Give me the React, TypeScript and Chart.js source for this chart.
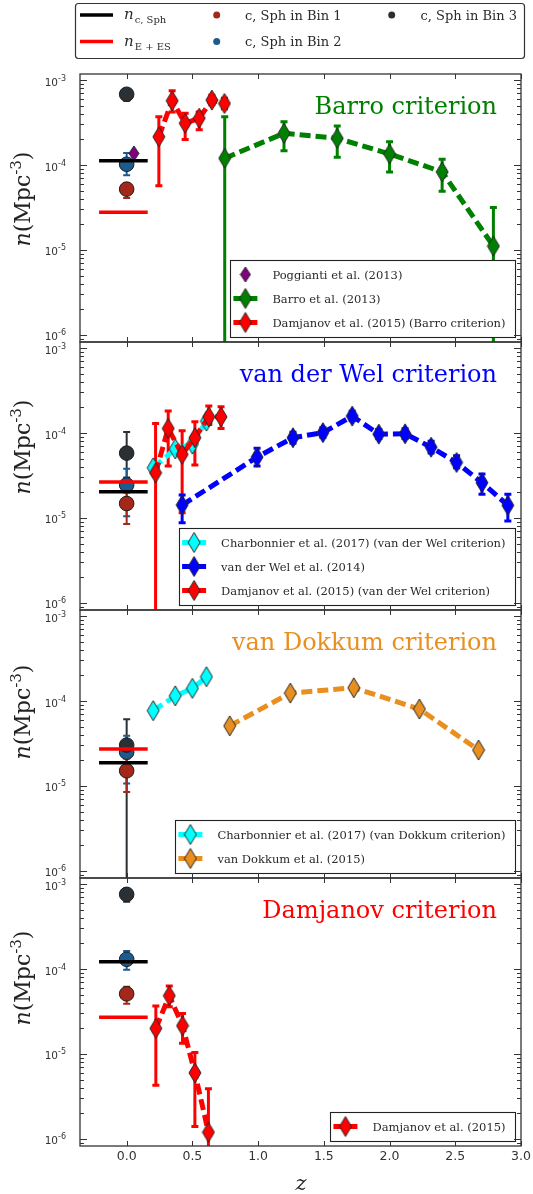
import React, { useEffect, useRef } from 'react';
import { Chart, registerables } from 'chart.js';

Chart.register(...registerables);

// ---------------- layout constants ----------------
const PAGE_W = 533;
const PAGE_H = 1194;
const PLOT_LEFT = 80;
const PLOT_RIGHT = 521;
const PANEL_TOPS = [74, 342, 610, 878];
const PANEL_H = 268;
const YLABEL_OFFSETS = [125, 105, 102, 100];

const X_MIN = -0.355;
const X_MAX = 3.0;
const Y_MIN = 8.27e-7;
const Y_MAX = 1.177e-3;

// ---------------- axis ticks ----------------
const xTickValues = [0, 0.5, 1, 1.5, 2, 2.5, 3];
const xTickLabels = ['0.0', '0.5', '1.0', '1.5', '2.0', '2.5', '3.0'];
const yDecadeValues = [1e-6, 1e-5, 1e-4, 1e-3];
const yDecadeExponents = ['-6', '-5', '-4', '-3'];

// ---------------- panel titles ----------------
const panelTitles = ['Barro criterion', 'van der Wel criterion', 'van Dokkum criterion', 'Damjanov criterion'];

// ---------------- colours ----------------
const GREEN = '#008000';
const RED = '#ff0000';
const BLUE = '#0000ff';
const CYAN = '#00ffff';
const ORANGE = '#e98f1f';
const PURPLE = '#800080';
const BIN1 = '#a3281a';
const BIN2 = '#1d5b8e';
const BIN3 = '#2b3034';
const panelTitleColors = [GREEN, BLUE, ORANGE, RED];

// ---------------- local (z = 0) values, one per panel ----------------
const localZ = 0;
const localLineZ = [-0.21, 0.16];
const nCSph = [1.12e-4, 2.04e-5, 1.88e-5, 1.22e-4];
const nEES = [2.78e-5, 2.65e-5, 2.72e-5, 2.7e-5];
const bin1N = [5.2e-5, 1.48e-5, 1.51e-5, 5.1e-5];
const bin1Lo = [4.1e-5, 8.5e-6, 8.5e-6, 3.9e-5];
const bin1Hi = [6.1e-5, 2.0e-5, 2.1e-5, 6.2e-5];
const bin2N = [1.02e-4, 2.45e-5, 2.5e-5, 1.3e-4];
const bin2Lo = [7.6e-5, 1.05e-5, 1.07e-5, 9.8e-5];
const bin2Hi = [1.38e-4, 3.8e-5, 3.9e-5, 1.63e-4];
const bin3N = [6.8e-4, 5.8e-5, 3.03e-5, 7.56e-4];
const bin3Lo = [5.7e-4, 3.0e-5, 0, 6.2e-4];
const bin3Hi = [7.8e-4, 1.03e-4, 6.1e-5, 8.8e-4];

// ---------------- panel 1: Barro criterion ----------------
const poggiantiZ = [0.055];
const poggiantiN = [1.37e-4];
const barroZ = [0.746, 1.197, 1.602, 2.0, 2.4, 2.79];
const barroN = [1.2e-4, 2.36e-4, 2.06e-4, 1.35e-4, 8.3e-5, 1.11e-5];
const barroLo = [0, 1.47e-4, 1.23e-4, 8.3e-5, 4.9e-5, 0];
const barroHi = [3.7e-4, 3.23e-4, 2.87e-4, 1.88e-4, 1.17e-4, 3.17e-5];
const damBarroZ = [0.245, 0.346, 0.445, 0.552, 0.648, 0.744];
const damBarroN = [2.15e-4, 5.7e-4, 3.1e-4, 3.55e-4, 5.8e-4, 5.3e-4];
const damBarroLo = [5.7e-5, 4.2e-4, 2.0e-4, 2.6e-4, 5.1e-4, 4.6e-4];
const damBarroHi = [3.7e-4, 7.5e-4, 4.07e-4, 4.2e-4, 6.6e-4, 6.1e-4];

// ---------------- panel 2: van der Wel criterion ----------------
const charbZ = [0.202, 0.37, 0.5, 0.607];
const charbVdwN = [3.9e-5, 6.5e-5, 7.4e-5, 1.38e-4];
const vdwZ = [0.422, 0.992, 1.265, 1.493, 1.716, 1.918, 2.118, 2.316, 2.51, 2.703, 2.9];
const vdwN = [1.42e-5, 5.2e-5, 8.8e-5, 1.01e-4, 1.58e-4, 9.7e-5, 9.8e-5, 6.8e-5, 4.5e-5, 2.6e-5, 1.41e-5];
const vdwLo = [8.8e-6, 4.1e-5, 7.6e-5, 8.9e-5, 1.4e-4, 8.6e-5, 8.6e-5, 5.8e-5, 3.9e-5, 1.9e-5, 9.2e-6];
const vdwHi = [1.86e-5, 6.6e-5, 1.02e-4, 1.15e-4, 1.8e-4, 1.1e-4, 1.12e-4, 8.0e-5, 5.4e-5, 3.3e-5, 1.9e-5];
const damVdwZ = [0.22, 0.316, 0.422, 0.519, 0.625, 0.718];
const damVdwN = [3.4e-5, 1.13e-4, 5.6e-5, 8.8e-5, 1.55e-4, 1.55e-4];
const damVdwLo = [0, 4.1e-5, 1.15e-5, 4.2e-5, 1.26e-4, 1.13e-4];
const damVdwHi = [1.29e-4, 1.81e-4, 1.06e-4, 1.36e-4, 2.08e-4, 2.03e-4];

// ---------------- panel 3: van Dokkum criterion ----------------
const charbVdkN = [7.7e-5, 1.15e-4, 1.41e-4, 1.93e-4];
const vdkZ = [0.784, 1.245, 1.728, 2.227, 2.677];
const vdkN = [5.1e-5, 1.24e-4, 1.43e-4, 8.05e-5, 2.65e-5];

// ---------------- panel 4: Damjanov criterion ----------------
const damZ = [0.222, 0.324, 0.425, 0.519, 0.622];
const damN = [2.0e-5, 4.85e-5, 2.15e-5, 6.0e-6, 1.2e-6];
const damLo = [4.3e-6, 3.6e-5, 1.34e-5, 1.4e-6, 0];
const damHi = [3.67e-5, 6.3e-5, 3.0e-5, 1.04e-5, 3.9e-6];

// ---------------- legend labels ----------------
const legendLabels = [
  ['Poggianti et al. (2013)', 'Barro et al. (2013)', 'Damjanov et al. (2015) (Barro criterion)'],
  ['Charbonnier et al. (2017) (van der Wel criterion)', 'van der Wel et al. (2014)', 'Damjanov et al. (2015) (van der Wel criterion)'],
  ['Charbonnier et al. (2017) (van Dokkum criterion)', 'van Dokkum et al. (2015)'],
  ['Damjanov et al. (2015)'],
];
const topLegendBinLabels = ['c, Sph in Bin 1', 'c, Sph in Bin 2', 'c, Sph in Bin 3'];

// ---------------- helpers ----------------
const SERIF = '"DejaVu Serif", serif';
const SANS = '"DejaVu Sans", sans-serif';

function diamond(fill: string, w = 12, h = 20): HTMLCanvasElement {
  const c = document.createElement('canvas');
  c.width = w + 2;
  c.height = h + 2;
  const g = c.getContext('2d')!;
  const cx = (w + 2) / 2;
  const cy = (h + 2) / 2;
  g.beginPath();
  g.moveTo(cx, 1);
  g.lineTo(cx + w / 2, cy);
  g.lineTo(cx, h + 1);
  g.lineTo(cx - w / 2, cy);
  g.closePath();
  g.fillStyle = fill;
  g.fill();
  g.strokeStyle = '#262626';
  g.lineWidth = 1;
  g.stroke();
  return c;
}

function pts(zs: number[], ns: number[]) {
  return zs.map((z, i) => ({ x: z, y: ns[i] }));
}

function dashed(label: string, zs: number[], ns: number[], color: string, marker: any, order: number, lo?: number[], hi?: number[]) {
  return {
    label,
    data: pts(zs, ns),
    showLine: true,
    borderColor: color,
    backgroundColor: color,
    borderWidth: 5,
    borderDash: [11, 5],
    borderCapStyle: 'butt',
    tension: 0,
    pointStyle: marker,
    pointRadius: 9,
    pointBorderWidth: 0,
    order,
    errLo: lo,
    errHi: hi,
    errColor: color,
    errWidth: 3,
    capHalf: 3.5,
  };
}

function circle(label: string, n: number, lo: number, hi: number, color: string, order: number) {
  return {
    label,
    data: [{ x: localZ, y: n }],
    showLine: false,
    pointStyle: 'circle',
    pointRadius: 7.3,
    backgroundColor: color,
    borderColor: '#1c1c1c',
    pointBorderWidth: 1,
    order,
    errLo: [lo],
    errHi: [hi],
    errColor: color,
    errWidth: 2,
    capHalf: 3.5,
  };
}

function hline(label: string, n: number, color: string) {
  return {
    label,
    data: [{ x: localLineZ[0], y: n }, { x: localLineZ[1], y: n }],
    showLine: true,
    borderColor: color,
    borderWidth: 3.5,
    pointRadius: 0,
    order: 0,
  };
}

function drawPanelLegend(ctx: CanvasRenderingContext2D, entries: any[], right: number, bottom: number) {
  ctx.save();
  ctx.font = `11.5px ${SERIF}`;
  let tw = 0;
  entries.forEach((e) => { tw = Math.max(tw, ctx.measureText(e.label).width); });
  const rowH = 24;
  const h = entries.length * rowH + 5;
  const left = right - (42 + tw + 10);
  const top = bottom - h;
  ctx.fillStyle = '#fff';
  ctx.fillRect(left, top, right - left, h);
  ctx.strokeStyle = '#222';
  ctx.lineWidth = 1.1;
  ctx.strokeRect(Math.round(left) + 0.5, Math.round(top) + 0.5, Math.round(right - left), Math.round(h));
  entries.forEach((e, i) => {
    const cy = top + 14.5 + rowH * i;
    if (e.line) {
      ctx.strokeStyle = e.line;
      ctx.lineWidth = 5;
      ctx.beginPath();
      ctx.moveTo(left + 3, cy);
      ctx.lineTo(left + 27, cy);
      ctx.stroke();
    }
    const m = e.marker as HTMLCanvasElement;
    ctx.drawImage(m, left + 15 - m.width / 2, cy - m.height / 2);
    ctx.fillStyle = '#2a2a2a';
    ctx.textBaseline = 'alphabetic';
    ctx.textAlign = 'left';
    ctx.fillText(e.label, left + 42, cy + 4);
  });
  ctx.restore();
}

function drawTopLegend(ctx: CanvasRenderingContext2D) {
  ctx.save();
  ctx.fillStyle = '#fff';
  ctx.strokeStyle = '#333';
  ctx.lineWidth = 1.2;
  ctx.beginPath();
  (ctx as any).roundRect(75.5, 3.5, 449, 55, 3);
  ctx.fill();
  ctx.stroke();
  const rows = [15, 41.5];
  ctx.lineWidth = 3.5;
  ctx.strokeStyle = '#000';
  ctx.beginPath(); ctx.moveTo(80, rows[0]); ctx.lineTo(113, rows[0]); ctx.stroke();
  ctx.strokeStyle = RED;
  ctx.beginPath(); ctx.moveTo(80, rows[1]); ctx.lineTo(113, rows[1]); ctx.stroke();
  ctx.fillStyle = '#2a2a2a';
  const subs = ['c, Sph', 'E + ES'];
  rows.forEach((y, i) => {
    ctx.font = `italic 15px ${SERIF}`;
    ctx.fillText('n', 124, y + 4);
    const nw = ctx.measureText('n').width;
    ctx.font = `10px ${SERIF}`;
    ctx.fillText(subs[i], 124 + nw + 1, y + 8);
  });
  const dots = [[216.7, rows[0], BIN1], [216.7, rows[1], BIN2], [391.7, rows[0], BIN3]] as const;
  const textX = [245, 245, 420.5];
  dots.forEach(([x, y, c], i) => {
    ctx.fillStyle = c as string;
    ctx.beginPath();
    ctx.arc(x as number, y as number, 3.5, 0, Math.PI * 2);
    ctx.fill();
    ctx.fillStyle = '#2a2a2a';
    ctx.font = `13px ${SERIF}`;
    ctx.fillText(topLegendBinLabels[i], textX[i], (y as number) + 4.5);
  });
  ctx.restore();
}

function makePlugin(p: number, legendEntries: any[]) {
  return {
    id: 'panelDecor' + p,
    beforeDatasetsDraw(chart: any) {
      const { ctx, chartArea: a, scales } = chart;
      const xs = scales.x;
      const ys = scales.y;
      ctx.save();
      ctx.beginPath();
      ctx.rect(a.left, a.top, a.right - a.left, a.bottom - a.top);
      ctx.clip();
      chart.data.datasets.forEach((ds: any) => {
        if (!ds.errLo) return;
        ds.data.forEach((pt: any, i: number) => {
          const px = xs.getPixelForValue(pt.x);
          const lo = ds.errLo[i];
          const hi = ds.errHi[i];
          const pyLo = lo > 0 ? ys.getPixelForValue(lo) : a.bottom + 10;
          const pyHi = ys.getPixelForValue(hi);
          ctx.strokeStyle = ds.errColor;
          ctx.lineWidth = ds.errWidth;
          ctx.setLineDash([]);
          ctx.beginPath();
          ctx.moveTo(px, pyLo);
          ctx.lineTo(px, pyHi);
          ctx.moveTo(px - ds.capHalf, pyLo);
          ctx.lineTo(px + ds.capHalf, pyLo);
          ctx.moveTo(px - ds.capHalf, pyHi);
          ctx.lineTo(px + ds.capHalf, pyHi);
          ctx.stroke();
        });
      });
      ctx.restore();
    },
    afterDatasetsDraw(chart: any) {
      const { ctx, chartArea: a, scales } = chart;
      const xs = scales.x;
      const ys = scales.y;
      ctx.save();
      // title
      ctx.font = `24px ${SERIF}`;
      ctx.fillStyle = panelTitleColors[p];
      ctx.textAlign = 'right';
      ctx.textBaseline = 'alphabetic';
      ctx.fillText(panelTitles[p], 497, a.top + 40);
      // legend
      drawPanelLegend(ctx, legendEntries, 515.5, a.bottom - 5);
      // frame
      ctx.strokeStyle = '#333';
      ctx.lineWidth = 1.3;
      ctx.strokeRect(a.left, a.top, a.right - a.left, a.bottom - a.top);
      // x ticks
      ctx.lineWidth = 1;
      xTickValues.forEach((v) => {
        const px = Math.round(xs.getPixelForValue(v)) + 0.5;
        ctx.beginPath();
        ctx.moveTo(px, a.top); ctx.lineTo(px, a.top + 5);
        ctx.moveTo(px, a.bottom); ctx.lineTo(px, a.bottom - 5);
        ctx.stroke();
      });
      // y ticks (major + minor)
      for (let e = -7; e <= -3; e++) {
        for (let m = 1; m <= 9; m++) {
          const v = m * Math.pow(10, e);
          if (v < Y_MIN || v > Y_MAX) continue;
          const py = Math.round(ys.getPixelForValue(v)) + 0.5;
          const len = m === 1 ? 7 : 4;
          ctx.beginPath();
          ctx.moveTo(a.left, py); ctx.lineTo(a.left + len, py);
          ctx.moveTo(a.right, py); ctx.lineTo(a.right - len, py);
          ctx.stroke();
        }
      }
      // y tick labels
      ctx.fillStyle = '#333';
      ctx.textAlign = 'left';
      yDecadeValues.forEach((v, i) => {
        const py = ys.getPixelForValue(v);
        ctx.font = `8px ${SANS}`;
        const ew = ctx.measureText(yDecadeExponents[i]).width;
        ctx.font = `10.5px ${SANS}`;
        const tw = ctx.measureText('10').width;
        const right = 66;
        ctx.fillText('10', right - ew - tw, py + 5.5);
        ctx.font = `8px ${SANS}`;
        ctx.fillText(yDecadeExponents[i], right - ew, py + 0.5);
      });
      // y axis label  n(Mpc^-3)
      const cy = a.top + YLABEL_OFFSETS[p];
      ctx.translate(30, cy);
      ctx.rotate(-Math.PI / 2);
      ctx.fillStyle = '#222';
      const parts = [
        { t: 'n', f: `italic 22px ${SERIF}`, dy: 0 },
        { t: '(Mpc', f: `22px ${SERIF}`, dy: 0 },
        { t: '-3', f: `15px ${SERIF}`, dy: -9 },
        { t: ')', f: `22px ${SERIF}`, dy: 0 },
      ];
      let total = 0;
      parts.forEach((pp) => { ctx.font = pp.f; total += ctx.measureText(pp.t).width; });
      let x = -total / 2;
      parts.forEach((pp) => {
        ctx.font = pp.f;
        ctx.fillText(pp.t, x, pp.dy);
        x += ctx.measureText(pp.t).width;
      });
      ctx.setTransform(1, 0, 0, 1, 0, 0);
      // bottom panel: x tick labels and axis label
      if (p === 3) {
        ctx.fillStyle = '#333';
        ctx.font = `12.5px ${SANS}`;
        ctx.textAlign = 'center';
        xTickValues.forEach((v, i) => {
          ctx.fillText(xTickLabels[i], xs.getPixelForValue(v), a.bottom + 14);
        });
        ctx.font = `italic 21px ${SERIF}`;
        ctx.fillStyle = '#222';
        ctx.fillText('z', 301, a.bottom + 44);
      }
      if (p === 0) drawTopLegend(ctx);
      ctx.restore();
    },
  };
}

function buildConfig(p: number): any {
  const dRed = diamond(RED);
  const dGreen = diamond(GREEN);
  const dBlue = diamond(BLUE);
  const dCyan = diamond(CYAN);
  const dOrange = diamond(ORANGE);
  const dPurple = diamond(PURPLE, 10, 15);

  const common = [
    hline('n_c,Sph', nCSph[p], '#000'),
    hline('n_E+ES', nEES[p], RED),
    circle('c, Sph in Bin 3', bin3N[p], bin3Lo[p], bin3Hi[p], BIN3, 1),
    circle('c, Sph in Bin 2', bin2N[p], bin2Lo[p], bin2Hi[p], BIN2, 2),
    circle('c, Sph in Bin 1', bin1N[p], bin1Lo[p], bin1Hi[p], BIN1, 3),
  ];
  let specific: any[] = [];
  let legend: any[] = [];
  if (p === 0) {
    specific = [
      { label: legendLabels[0][0], data: pts(poggiantiZ, poggiantiN), showLine: false, pointStyle: dPurple, pointRadius: 8, order: 4 },
      dashed(legendLabels[0][2], damBarroZ, damBarroN, RED, dRed, 5, damBarroLo, damBarroHi),
      dashed(legendLabels[0][1], barroZ, barroN, GREEN, dGreen, 6, barroLo, barroHi),
    ];
    legend = [
      { label: legendLabels[0][0], marker: dPurple, line: null },
      { label: legendLabels[0][1], marker: dGreen, line: GREEN },
      { label: legendLabels[0][2], marker: dRed, line: RED },
    ];
  } else if (p === 1) {
    specific = [
      dashed(legendLabels[1][2], damVdwZ, damVdwN, RED, dRed, 4, damVdwLo, damVdwHi),
      dashed(legendLabels[1][0], charbZ, charbVdwN, CYAN, dCyan, 5),
      dashed(legendLabels[1][1], vdwZ, vdwN, BLUE, dBlue, 6, vdwLo, vdwHi),
    ];
    legend = [
      { label: legendLabels[1][0], marker: dCyan, line: CYAN },
      { label: legendLabels[1][1], marker: dBlue, line: BLUE },
      { label: legendLabels[1][2], marker: dRed, line: RED },
    ];
  } else if (p === 2) {
    specific = [
      dashed(legendLabels[2][0], charbZ, charbVdkN, CYAN, dCyan, 4),
      dashed(legendLabels[2][1], vdkZ, vdkN, ORANGE, dOrange, 5),
    ];
    legend = [
      { label: legendLabels[2][0], marker: dCyan, line: CYAN },
      { label: legendLabels[2][1], marker: dOrange, line: ORANGE },
    ];
  } else {
    specific = [dashed(legendLabels[3][0], damZ, damN, RED, dRed, 4, damLo, damHi)];
    legend = [{ label: legendLabels[3][0], marker: dRed, line: RED }];
  }

  const top = PANEL_TOPS[p];
  return {
    type: 'scatter',
    data: { datasets: [...common, ...specific] },
    options: {
      responsive: false,
      animation: false,
      events: [],
      layout: {
        padding: { left: PLOT_LEFT, right: PAGE_W - PLOT_RIGHT, top, bottom: PAGE_H - top - PANEL_H },
      },
      scales: {
        x: { type: 'linear', min: X_MIN, max: X_MAX, display: false },
        y: { type: 'logarithmic', min: Y_MIN, max: Y_MAX, display: false },
      },
      plugins: { legend: { display: false }, tooltip: { enabled: false }, title: { display: false } },
    },
    plugins: [makePlugin(p, legend)],
  };
}

export default function App() {
  const r0 = useRef<HTMLCanvasElement>(null);
  const r1 = useRef<HTMLCanvasElement>(null);
  const r2 = useRef<HTMLCanvasElement>(null);
  const r3 = useRef<HTMLCanvasElement>(null);
  const refs = [r0, r1, r2, r3];

  useEffect(() => {
    const charts = refs.map((r, i) => new Chart(r.current!, buildConfig(i)));
    return () => charts.forEach((c) => c.destroy());
  }, []);

  return (
    <div style={{ position: 'absolute', left: 0, top: 0, width: PAGE_W, height: PAGE_H, background: '#fff' }}>
      {refs.map((r, i) => (
        <canvas
          key={i}
          ref={r}
          width={PAGE_W}
          height={PAGE_H}
          style={{ position: 'absolute', left: 0, top: 0, width: PAGE_W, height: PAGE_H }}
        />
      ))}
    </div>
  );
}
